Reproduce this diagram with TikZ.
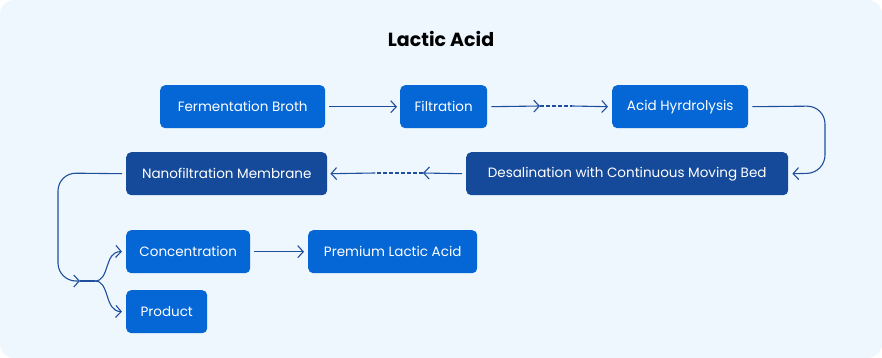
\documentclass[tikz,border=0pt]{standalone}
\usepackage{fontspec}
\setmainfont{Poppins}
\usetikzlibrary{arrows.meta}
\definecolor{bg}{HTML}{EEF7FE}
\definecolor{bright}{HTML}{0566D5}
\definecolor{deep}{HTML}{154A9A}
\definecolor{wire}{HTML}{1F4F9C}
\tikzset{
  box/.style={rounded corners=5pt, fill=bright, text=white, font=\fontsize{13.5}{15}\selectfont, minimum height=43pt, inner xsep=0pt, anchor=north west},
  dbox/.style={box, fill=deep},
  wireline/.style={draw=wire, line width=1.1pt},
  tip/.style={wireline, -{Straight Barb[length=5.5pt,width=12pt]}},
  dashline/.style={wireline, dash pattern=on 4pt off 2pt}
}
\begin{document}
\begin{tikzpicture}[x=1pt,y=-1pt]
\useasboundingbox (0,0) rectangle (882,358);
\fill[bg, rounded corners=14pt] (0,0) rectangle (882,358);
\node[font=\fontsize{19}{21}\selectfont\bfseries] (title) at (441,39) {Lactic Acid};
\node[box, minimum width=165pt] (fb) at (160,85) {Fermentation Broth};
\node[box, minimum width=87pt] (fi) at (400,85) {Filtration};
\node[box, minimum width=136pt] (ah) at (612,85) {Acid Hyrdrolysis};
\node[dbox, minimum width=322pt] (de) at (466,152) {Desalination with Continuous Moving Bed};
\node[dbox, minimum width=201pt] (nf) at (126,152) {Nanofiltration Membrane};
\node[box, minimum width=124pt] (co) at (126,230) {Concentration};
\node[box, minimum width=169pt] (pl) at (308,230) {Premium Lactic Acid};
\node[box, minimum width=81pt] (pr) at (126,290) {Product};
% connectors
\draw[tip] ([xshift=4pt]fb.east) -- ([xshift=-3pt]fi.west);
\coordinate (m1) at (540,106);
\coordinate (m2) at (572,106);
\draw[tip] ([xshift=4pt]fi.east) -- (m1);
\draw[dashline] (m1) -- (m2);
\draw[tip] (m2) -- ([xshift=-4pt]ah.west);
\draw[tip, rounded corners=18pt] ([xshift=4pt]ah.east) -- (825,106) -- (825,173) -- ([xshift=4pt]de.east);
\coordinate (m3) at (423,173);
\coordinate (m4) at (375,173);
\draw[tip] ([xshift=-4pt]de.west) -- (m3);
\draw[dashline] (m3) -- (m4);
\draw[tip] (m4) -- ([xshift=3pt]nf.east);
\coordinate (sp) at (95,281);
\coordinate (jn) at (80,281);
\draw[tip, rounded corners=18pt] ([xshift=-4pt]nf.west) -- (58,173) -- (58,281) -- (jn);
\draw[wireline] (jn) -- (sp);
\draw[tip] (sp) .. controls (110,281) and (104,251) .. ([xshift=-4pt]co.west);
\draw[tip] (sp) .. controls (110,281) and (104,311) .. ([xshift=-4pt]pr.west);
\draw[tip] ([xshift=4pt]co.east) -- ([xshift=-4pt]pl.west);
\end{tikzpicture}
\end{document}
